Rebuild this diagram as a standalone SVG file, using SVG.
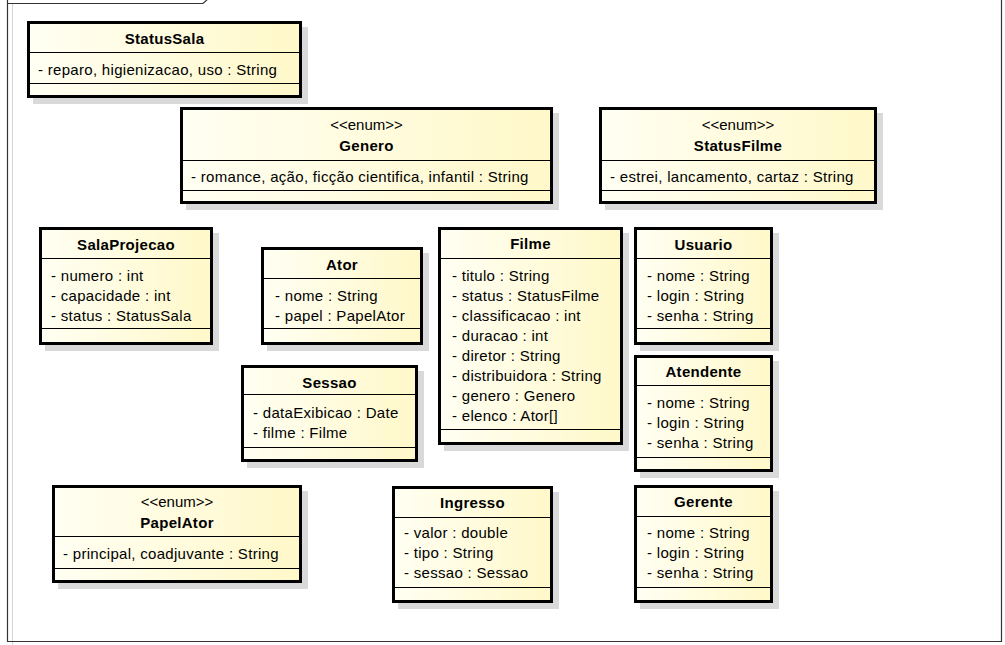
<svg xmlns="http://www.w3.org/2000/svg" width="1005" height="645" viewBox="0 0 1005 645">
<defs>
<linearGradient id="fill" x1="0" y1="0" x2="1" y2="0">
<stop offset="0" stop-color="#FFFFF3"/>
<stop offset="1" stop-color="#FFF8C9"/>
</linearGradient>
<style>
.shadow{fill:#d9d9d9}
.box{fill:url(#fill);stroke:#000;stroke-width:3}
.sep{stroke:#000;stroke-width:1}
.name{font-family:"Liberation Sans",Arial,sans-serif;font-size:15px;font-weight:bold;text-anchor:middle;letter-spacing:0.3px;fill:#000}
.stereo{font-family:"Liberation Sans",Arial,sans-serif;font-size:15px;text-anchor:middle;fill:#000}
.attr{font-family:"Liberation Sans",Arial,sans-serif;font-size:15px;letter-spacing:0.3px;fill:#000}
.frame{fill:none;stroke:#333;stroke-width:1.2}
</style>
</defs>
<rect width="1005" height="645" fill="#fff"/>
<g id="frame">
<line x1="12.5" y1="4" x2="12.5" y2="645" stroke="#d6d6d6" stroke-width="1"/>
<path class="frame" d="M7.5,-2 V641.5 H1001.5 V-2"/>
<path class="frame" d="M7.5,3.5 H203 L210,-3"/>
</g>
<g id="connectors"/>

<g id="StatusSala">
<rect class="shadow" x="33" y="27" width="275" height="77"/>
<rect class="box" x="28.5" y="22.5" width="272" height="74"/>
<line class="sep" x1="29" y1="52.5" x2="300" y2="52.5"/>
<line class="sep" x1="29" y1="83.5" x2="300" y2="83.5"/>
<text class="name" x="164.5" y="44">StatusSala</text>
<text class="attr" x="38" y="75">- reparo, higienizacao, uso : String</text>
</g>

<g id="Genero">
<rect class="shadow" x="186" y="113" width="373" height="97"/>
<rect class="box" x="181.5" y="108.5" width="370" height="94"/>
<line class="sep" x1="182" y1="160.5" x2="551" y2="160.5"/>
<line class="sep" x1="182" y1="190.5" x2="551" y2="190.5"/>
<text class="stereo" x="366.5" y="130">&lt;&lt;enum&gt;&gt;</text>
<text class="name" x="366.5" y="151">Genero</text>
<text class="attr" x="191" y="182">- romance, ação, ficção cientifica, infantil : String</text>
</g>

<g id="StatusFilme">
<rect class="shadow" x="605" y="113" width="278" height="97"/>
<rect class="box" x="600.5" y="108.5" width="275" height="94"/>
<line class="sep" x1="601" y1="160.5" x2="875" y2="160.5"/>
<line class="sep" x1="601" y1="190.5" x2="875" y2="190.5"/>
<text class="stereo" x="738" y="130">&lt;&lt;enum&gt;&gt;</text>
<text class="name" x="738" y="151">StatusFilme</text>
<text class="attr" x="610" y="182">- estrei, lancamento, cartaz : String</text>
</g>

<g id="SalaProjecao">
<rect class="shadow" x="45" y="233" width="174" height="118"/>
<rect class="box" x="40.5" y="228.5" width="171" height="115"/>
<line class="sep" x1="41" y1="258.5" x2="211" y2="258.5"/>
<line class="sep" x1="41" y1="328.5" x2="211" y2="328.5"/>
<text class="name" x="126" y="250">SalaProjecao</text>
<text class="attr" x="51" y="281">- numero : int</text>
<text class="attr" x="51" y="301">- capacidade : int</text>
<text class="attr" x="51" y="321">- status : StatusSala</text>
</g>

<g id="Ator">
<rect class="shadow" x="267" y="253" width="162" height="98"/>
<rect class="box" x="262.5" y="248.5" width="159" height="95"/>
<line class="sep" x1="263" y1="278.5" x2="421" y2="278.5"/>
<line class="sep" x1="263" y1="328.5" x2="421" y2="328.5"/>
<text class="name" x="342" y="270">Ator</text>
<text class="attr" x="275" y="301">- nome : String</text>
<text class="attr" x="275" y="321">- papel : PapelAtor</text>
</g>

<g id="Sessao">
<rect class="shadow" x="247" y="371" width="177" height="97"/>
<rect class="box" x="242.5" y="366.5" width="174" height="94"/>
<line class="sep" x1="243" y1="394.5" x2="416" y2="394.5"/>
<line class="sep" x1="243" y1="447.5" x2="416" y2="447.5"/>
<text class="name" x="329.5" y="388">Sessao</text>
<text class="attr" x="253" y="418">- dataExibicao : Date</text>
<text class="attr" x="253" y="438">- filme : Filme</text>
</g>

<g id="Filme">
<rect class="shadow" x="444" y="233" width="185" height="218"/>
<rect class="box" x="439.5" y="228.5" width="182" height="215"/>
<line class="sep" x1="440" y1="258.5" x2="621" y2="258.5"/>
<line class="sep" x1="440" y1="429.5" x2="621" y2="429.5"/>
<text class="name" x="530.5" y="249">Filme</text>
<text class="attr" x="452" y="281">- titulo : String</text>
<text class="attr" x="452" y="301">- status : StatusFilme</text>
<text class="attr" x="452" y="321">- classificacao : int</text>
<text class="attr" x="452" y="341">- duracao : int</text>
<text class="attr" x="452" y="361">- diretor : String</text>
<text class="attr" x="452" y="381">- distribuidora : String</text>
<text class="attr" x="452" y="401">- genero : Genero</text>
<text class="attr" x="452" y="421">- elenco : Ator[]</text>
</g>

<g id="Usuario">
<rect class="shadow" x="640" y="233" width="139" height="118"/>
<rect class="box" x="635.5" y="228.5" width="136" height="115"/>
<line class="sep" x1="636" y1="258.5" x2="771" y2="258.5"/>
<line class="sep" x1="636" y1="328.5" x2="771" y2="328.5"/>
<text class="name" x="703.5" y="250">Usuario</text>
<text class="attr" x="647" y="281">- nome : String</text>
<text class="attr" x="647" y="301">- login : String</text>
<text class="attr" x="647" y="321">- senha : String</text>
</g>

<g id="Atendente">
<rect class="shadow" x="640" y="361" width="139" height="117"/>
<rect class="box" x="635.5" y="356.5" width="136" height="114"/>
<line class="sep" x1="636" y1="385.5" x2="771" y2="385.5"/>
<line class="sep" x1="636" y1="457.5" x2="771" y2="457.5"/>
<text class="name" x="703.5" y="377">Atendente</text>
<text class="attr" x="647" y="408">- nome : String</text>
<text class="attr" x="647" y="428">- login : String</text>
<text class="attr" x="647" y="448">- senha : String</text>
</g>

<g id="Gerente">
<rect class="shadow" x="640" y="491" width="139" height="118"/>
<rect class="box" x="635.5" y="486.5" width="136" height="115"/>
<line class="sep" x1="636" y1="516.5" x2="771" y2="516.5"/>
<line class="sep" x1="636" y1="587.5" x2="771" y2="587.5"/>
<text class="name" x="703.5" y="507">Gerente</text>
<text class="attr" x="647" y="538">- nome : String</text>
<text class="attr" x="647" y="558">- login : String</text>
<text class="attr" x="647" y="578">- senha : String</text>
</g>

<g id="PapelAtor">
<rect class="shadow" x="58" y="491" width="250" height="98"/>
<rect class="box" x="53.5" y="486.5" width="247" height="95"/>
<line class="sep" x1="54" y1="536.5" x2="300" y2="536.5"/>
<line class="sep" x1="54" y1="568.5" x2="300" y2="568.5"/>
<text class="stereo" x="177" y="507">&lt;&lt;enum&gt;&gt;</text>
<text class="name" x="177" y="528">PapelAtor</text>
<text class="attr" x="63" y="559">- principal, coadjuvante : String</text>
</g>

<g id="Ingresso">
<rect class="shadow" x="398" y="492" width="161" height="117"/>
<rect class="box" x="393.5" y="487.5" width="158" height="114"/>
<line class="sep" x1="394" y1="517.5" x2="551" y2="517.5"/>
<line class="sep" x1="394" y1="587.5" x2="551" y2="587.5"/>
<text class="name" x="472.5" y="508">Ingresso</text>
<text class="attr" x="404" y="538">- valor : double</text>
<text class="attr" x="404" y="558">- tipo : String</text>
<text class="attr" x="404" y="578">- sessao : Sessao</text>
</g>
</svg>
